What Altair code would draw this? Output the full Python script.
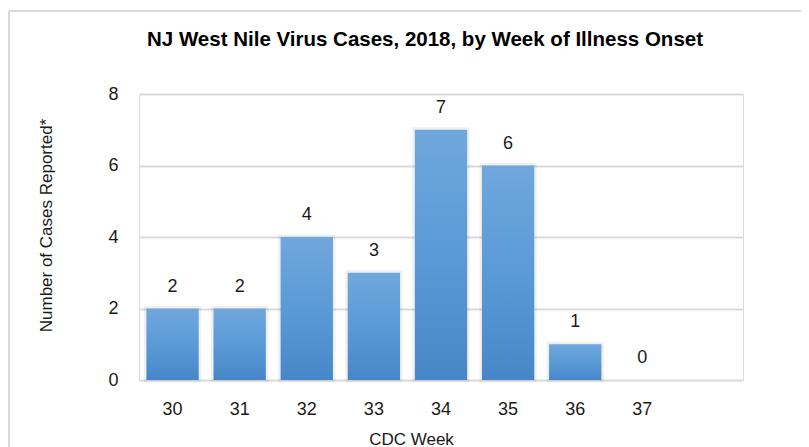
import altair as alt
import pandas as pd

weeks = ["30", "31", "32", "33", "34", "35", "36", "37"]
cases = [2, 2, 4, 3, 7, 6, 1, 0]
x_domain = weeks + [" "]
y_ticks = [0, 2, 4, 6, 8]

df = pd.DataFrame({"week": weeks, "cases": cases})

FONT = "Liberation Sans"
GRID = "#d9d9d9"
TXT = "#1a1a1a"

x_enc = alt.X(
    "week:N",
    sort=x_domain,
    scale=alt.Scale(domain=x_domain, paddingInner=0.22, paddingOuter=0.11),
    axis=alt.Axis(
        title="CDC Week",
        labelAngle=0,
        domain=False,
        ticks=False,
        tickSize=0,
        labelPadding=20,
        labelFontSize=18,
        labelFont=FONT,
        labelColor=TXT,
        titleFontSize=17,
        titleFont=FONT,
        titleColor=TXT,
        titleFontWeight="normal",
        titleX=272,
        titleY=59,
        titleBaseline="middle",
        grid=False,
    ),
)
y_enc = alt.Y(
    "cases:Q",
    scale=alt.Scale(domain=[0, 8], nice=False),
    axis=alt.Axis(
        title="Number of Cases Reported*",
        values=y_ticks,
        domain=False,
        ticks=False,
        tickSize=0,
        labelPadding=21,
        labelFontSize=18,
        labelFont=FONT,
        labelColor=TXT,
        titleFontSize=17,
        titleFont=FONT,
        titleColor=TXT,
        titleFontWeight="normal",
        titleX=-93,
        titleY=131,
        titleBaseline="middle",
        titleAlign="center",
        grid=True,
        gridColor=GRID,
        gridWidth=2,
    ),
)

grad = alt.Gradient(
    gradient="linear",
    stops=[
        alt.GradientStop(color="#70a7dd", offset=0),
        alt.GradientStop(color="#5a9ad6", offset=0.5),
        alt.GradientStop(color="#4787c9", offset=1),
    ],
    x1=0, x2=0, y1=0, y2=1,
)

base = alt.Chart(df)

shadow = base.mark_bar(
    fill="transparent", stroke="#000000", strokeOpacity=0.06, strokeWidth=5
).encode(x=x_enc, y=y_enc).transform_filter("datum.cases > 0")

bars = base.mark_bar(color=grad).encode(x=x_enc, y=y_enc)

labels = base.mark_text(
    dy=-17, baseline="alphabetic", fontSize=18, font=FONT, color=TXT
).encode(x=x_enc, y=y_enc, text="cases:Q")

frame_top = alt.Chart(alt.Data(values=[{}])).mark_rule(
    color=GRID, strokeWidth=2
).encode(x=alt.value(-130), x2=alt.value(680), y=alt.value(-83))
frame_left = alt.Chart(alt.Data(values=[{}])).mark_rule(
    color=GRID, strokeWidth=2
).encode(x=alt.value(-130), y=alt.value(-83), y2=alt.value(400))

chart = (
    alt.layer(frame_top, frame_left, shadow, bars, labels)
    .properties(
        width=604,
        height=286,
        title=alt.TitleParams(
            text="NJ West Nile Virus Cases, 2018, by Week of Illness Onset",
            font=FONT,
            fontSize=20.5,
            fontWeight="bold",
            color="#000000",
            anchor="middle",
            baseline="alphabetic",
            dx=-16,
            dy=56,
            offset=0,
        ),
        autosize=alt.AutoSizeParams(type="none"),
        padding={"left": 131, "top": 86, "right": 58, "bottom": 70},
    )
    .configure_view(stroke=None)
    .configure(background="white")
)

chart.save("out.html", embed_options={"renderer": "svg", "actions": False})
